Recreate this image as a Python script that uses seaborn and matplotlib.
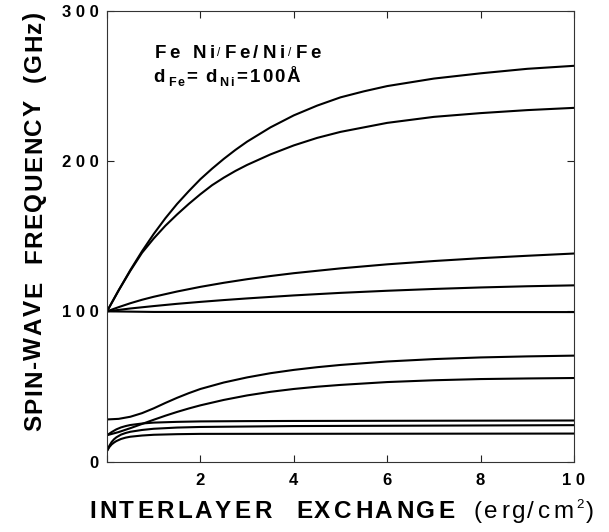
import numpy as np
import pandas as pd
import seaborn as sns
import matplotlib
matplotlib.use("Agg")
import matplotlib.pyplot as plt
from matplotlib import font_manager
from matplotlib.font_manager import FontProperties
from matplotlib.ft2font import FT2Font
from matplotlib.transforms import IdentityTransform

DPI = 100
W, H = 609, 532

# ---- spin-wave branches: interlayer exchange (erg/cm^2) vs frequency (GHz) ----
x_a = [0, 0.25, 0.5, 0.75, 1, 1.25, 1.5, 1.75, 2, 2.25, 2.5, 2.75, 3, 3.5, 4,
       4.5, 5, 5.5, 6, 7, 8, 9, 10]
f_a = [100, 114, 127.5, 140, 151.5, 162, 171.5, 180, 188, 195, 201.5, 207.5,
       213, 222.5, 230.5, 237, 242.5, 246.5, 250, 255, 258.5, 261.5, 263.5]

x_b = [0, 0.25, 0.5, 0.75, 1, 1.25, 1.5, 1.75, 2, 2.25, 2.5, 2.75, 3, 3.5, 4,
       4.5, 5, 5.5, 6, 7, 8, 9, 10]
f_b = [100, 114, 127, 139, 148.5, 157, 164.5, 171.5, 178, 184, 189, 193.5,
       197.5, 204.5, 210.5, 215.5, 219.5, 222.5, 225.5, 229.5, 232, 234, 235.5]

x_c = [0, 0.25, 0.5, 0.75, 1, 1.5, 2, 2.5, 3, 3.5, 4, 5, 6, 7, 8, 9, 10]
f_c = [100, 102.8, 105.4, 107.7, 109.7, 113.2, 116.3, 119, 121.4, 123.5,
       125.4, 128.6, 131.3, 133.5, 135.4, 137, 138.5]

x_d = [0, 0.5, 1, 1.5, 2, 2.5, 3, 4, 5, 6, 7, 8, 9, 10]
f_d = [100, 101.9, 103.5, 105, 106.3, 107.5, 108.6, 110.6, 112.3, 113.7,
       114.9, 115.9, 116.7, 117.3]

x_e = [0, 1, 10]
f_e = [100, 99.6, 99.5]

x_f = [0, 0.25, 0.5, 0.75, 1, 1.25, 1.5, 1.75, 2, 2.5, 3, 3.5, 4, 4.5, 5, 6,
       7, 8, 9, 10]
f_f = [28, 28.4, 29.8, 32.2, 35.4, 39, 42.4, 45.5, 48.3, 52.6, 56, 58.8, 61,
       62.8, 64.3, 66.6, 68.2, 69.3, 70, 70.5]

x_g = [0, 0.25, 0.5, 0.75, 1, 1.25, 1.5, 1.75, 2, 2.5, 3, 3.5, 4, 4.5, 5, 6,
       7, 8, 9, 10]
f_g = [17.5, 19.6, 22.2, 25, 27.8, 30.5, 33, 35.3, 37.4, 41, 44, 46.4, 48.3,
       49.8, 51, 52.9, 54.1, 54.9, 55.3, 55.6]

x_h = [0, 0.1, 0.2, 0.3, 0.4, 0.5, 0.75, 1, 1.5, 2, 3, 4, 10]
f_h = [17.5, 19.6, 21.4, 22.7, 23.6, 24.3, 25.3, 25.9, 26.4, 26.7, 26.9, 27,
       27.3]

x_i = [0, 0.05, 0.1, 0.15, 0.2, 0.3, 0.4, 0.5, 0.75, 1, 1.5, 2, 3, 4, 10]
f_i = [7, 10.5, 13, 14.8, 16.1, 17.9, 19, 19.8, 21, 21.8, 22.6, 23, 23.3,
       23.6, 24.2]

x_j = [0, 0.05, 0.1, 0.15, 0.2, 0.3, 0.4, 0.5, 0.75, 1, 1.5, 2, 10]
f_j = [7, 9.6, 11.4, 12.6, 13.6, 15, 15.9, 16.5, 17.3, 17.8, 18.2, 18.4, 18.6]

x_ticks = [0, 2, 4, 6, 8, 10]
y_ticks = [0, 100, 200, 300]

branches = {
    "a": (x_a, f_a), "b": (x_b, f_b), "c": (x_c, f_c), "d": (x_d, f_d),
    "e": (x_e, f_e), "f": (x_f, f_f), "g": (x_g, f_g), "h": (x_h, f_h),
    "i": (x_i, f_i), "j": (x_j, f_j),
}
rows = []
for name, (xs, fs) in branches.items():
    for xv, fv in zip(xs, fs):
        rows.append((name, xv, fv))
df = pd.DataFrame(rows, columns=["mode", "exchange", "frequency"])

sns.set_style("ticks")
FAMILY = ["Liberation Sans", "DejaVu Sans"]
plt.rcParams["font.family"] = FAMILY

fig = plt.figure(figsize=(W / DPI, H / DPI), dpi=DPI)
fig.patch.set_facecolor("white")
ax = fig.add_axes([107 / W, (H - 461.5) / H, 467 / W, 450.5 / H])

sns.lineplot(data=df, x="exchange", y="frequency", units="mode",
             estimator=None, sort=False, color="black", lw=1.5,
             legend=False, ax=ax)

ax.set_xlim(0, 10)
ax.set_ylim(0, 300)
ax.set_xlabel("")
ax.set_ylabel("")

tick_font = dict(family=FAMILY, weight="bold", size=12)
ax.set_xticks(x_ticks)
ax.set_xticklabels(["" if v == 0 else " ".join(str(v)) for v in x_ticks],
                   fontdict=tick_font)
ax.set_yticks(y_ticks)
ax.set_yticklabels([" ".join(str(v)) for v in y_ticks], fontdict=tick_font)
ax.tick_params(direction="in", length=5, width=0.8, top=True, right=True,
               colors="#222222", labelcolor="black")
ax.tick_params(axis="x", pad=8)
ax.tick_params(axis="y", pad=6)
for sp in ax.spines.values():
    sp.set_linewidth(0.8)
    sp.set_color("#333333")

# ---- letter-spaced text drawn glyph by glyph in figure pixels ----
_fonts = {}


def _glyph(ch, prop):
    path = font_manager.findfont(prop)
    key = (path, prop.get_size_in_points())
    ft = _fonts.get(key)
    if ft is None:
        ft = FT2Font(path)
        ft.set_size(prop.get_size_in_points(), DPI)
        _fonts[key] = ft
    g = ft.load_char(ord(ch))
    return g.linearHoriAdvance / 65536.0, g.horiBearingX / 64.0


def spaced_text(x0, y0, parts, span, angle=0.0):
    items = []
    for p in parts:
        if isinstance(p, (int, float)):
            items.append(("gap", p))
        else:
            s, prop, shift = p
            for ch in s:
                items.append(("ch", ch, prop, shift))
    natural = 0.0
    nchar = 0
    for it in items:
        if it[0] == "gap":
            natural += it[1]
        else:
            natural += _glyph(it[1], it[2])[0]
            nchar += 1
    track = (span - natural) / max(nchar - 1, 1)
    c, s_ = np.cos(np.radians(angle)), np.sin(np.radians(angle))
    pos = 0.0
    for it in items:
        if it[0] == "gap":
            pos += it[1]
            continue
        _, ch, prop, shift = it
        adv, bear = _glyph(ch, prop)
        if ch != " ":
            px = pos + bear
            fig.text(x0 + px * c - shift * s_, y0 + px * s_ + shift * c, ch,
                     fontproperties=prop, rotation=angle,
                     rotation_mode="anchor", ha="left", va="baseline",
                     transform=IdentityTransform(), color="black")
        pos += adv + track


def fp(size, weight="bold"):
    return FontProperties(family=FAMILY, weight=weight, size=size)


label_b = fp(17.5)
label_r = fp(17.5, "normal")
sup_r = fp(9.5, "normal")

# x axis title
spaced_text(88, 14, [("INTERLAYER", label_b, 0), 22, ("EXCHANGE", label_b, 0), 16,
                     ("(erg/cm", label_r, 0), ("2", sup_r, 10), (")", label_r, 0)],
            span=506)

# y axis title
spaced_text(41, 100, [("SPIN-WAVE", label_b, 0), 16, ("FREQUENCY", label_b, 0), 16,
                      ("(GHz)", label_b, 0)],
            span=420, angle=90)

# structure annotation
ann_b = fp(13.5)
ann_s = fp(8.5, "normal")
ann_sub = fp(9)
spaced_text(153, 474.5, [("Fe", ann_b, 0), 9, ("Ni", ann_b, 0), ("/", ann_s, 1),
                         ("Fe/Ni", ann_b, 0), ("/", ann_s, 1), ("Fe", ann_b, 0)],
            span=167)
spaced_text(153, 450.5, [("d", ann_b, 0), ("Fe", ann_sub, -4), ("=", ann_b, 0), 5,
                         ("d", ann_b, 0), ("Ni", ann_sub, -4), ("=100Å", ann_b, 0)],
            span=147)

fig.savefig("out.png", dpi=DPI, facecolor="white")
